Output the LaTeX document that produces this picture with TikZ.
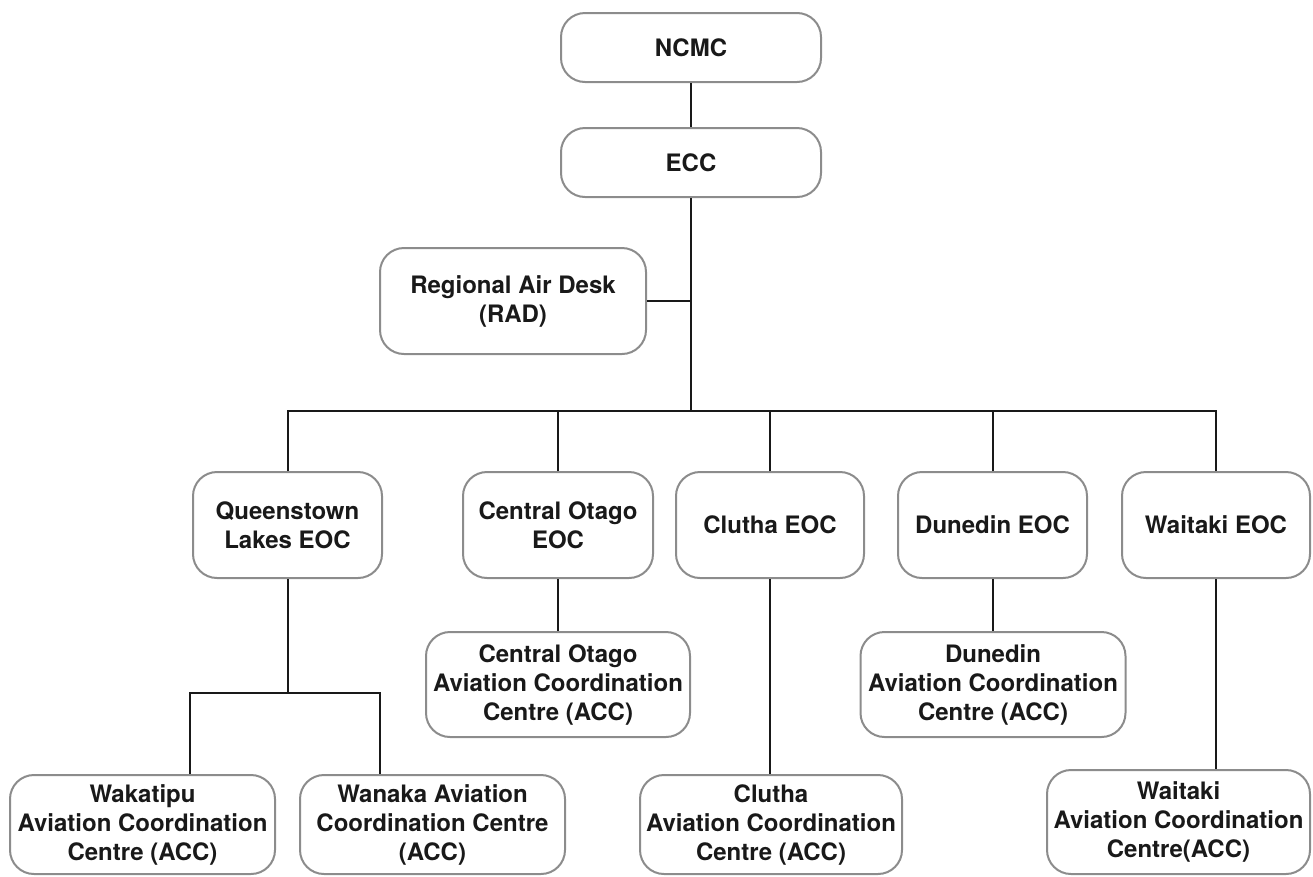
\documentclass[tikz,border=0pt]{standalone}
\usepackage{fontspec}
\setmainfont{TeX Gyre Heros}
\begin{document}
\begin{tikzpicture}[x=1pt,y=-1pt,
  box/.style={draw=black!45, line width=2pt, rounded corners=24pt, fill=white,
    align=center, inner sep=0pt, text=black!90,
    font=\fontsize{24}{29}\selectfont\bfseries},
  conn/.style={draw=black!90, line width=2pt}]
\useasboundingbox (0,0) rectangle (1313,876);
% top
\node[box, minimum width=260pt, minimum height=69pt] (ncmc) at (691,47.5) {NCMC};
\node[box, minimum width=260pt, minimum height=69pt] (ecc) at (691,162.5) {ECC};
\node[box, minimum width=266pt, minimum height=106pt] (rad) at (513,301) {Regional Air Desk\\(RAD)};
% EOCs
\node[box, minimum width=189pt, minimum height=106pt] (ql) at (287.5,525) {Queenstown\\Lakes EOC};
\node[box, minimum width=190pt, minimum height=106pt] (co) at (558,525) {Central Otago\\EOC};
\node[box, minimum width=188pt, minimum height=106pt] (cl) at (770,525) {Clutha EOC};
\node[box, minimum width=189pt, minimum height=106pt] (du) at (992.5,525) {Dunedin EOC};
\node[box, minimum width=188pt, minimum height=106pt] (wt) at (1216,525) {Waitaki EOC};
% middle ACCs
\node[box, minimum width=264pt, minimum height=105pt] (coacc) at (558,684.5) {Central Otago\\Aviation Coordination\\Centre (ACC)};
\node[box, minimum width=265pt, minimum height=105pt] (duacc) at (993,684.5) {Dunedin\\Aviation Coordination\\Centre (ACC)};
% bottom ACCs
\node[box, minimum width=265pt, minimum height=99pt] (wk) at (142.5,824.5) {Wakatipu\\Aviation Coordination\\Centre (ACC)};
\node[box, minimum width=265pt, minimum height=99pt] (wn) at (432.5,824.5) {Wanaka Aviation\\Coordination Centre\\(ACC)};
\node[box, minimum width=262pt, minimum height=99pt] (clacc) at (771,824.5) {Clutha\\Aviation Coordination\\Centre (ACC)};
\node[box, minimum width=263pt, minimum height=104pt] (wtacc) at (1178.5,822) {Waitaki\\Aviation Coordination\\Centre(ACC)};
% connectors
\coordinate (bus) at (691,411);
\coordinate (qj) at (287.5,693);
\draw[conn] (ncmc.south) -- (ecc.north);
\draw[conn] (ecc.south) -- (bus);
\draw[conn] (rad.east) -- (rad.east -| bus);
\draw[conn] (ql.north) |- (wt.north |- bus) -- (wt.north);
\draw[conn] (co.north) -- (co.north |- bus);
\draw[conn] (cl.north) -- (cl.north |- bus);
\draw[conn] (du.north) -- (du.north |- bus);
\draw[conn] (co.south) -- (coacc.north);
\draw[conn] (du.south) -- (duacc.north -| du.south);
\draw[conn] (cl.south) -- (clacc.north -| cl.south);
\draw[conn] (wt.south) -- (wtacc.north -| wt.south);
\draw[conn] (ql.south) -- (qj);
\draw[conn] ([xshift=47.5pt]wk.north) |- (qj) -| ([xshift=-52.5pt]wn.north);
\end{tikzpicture}
\end{document}
